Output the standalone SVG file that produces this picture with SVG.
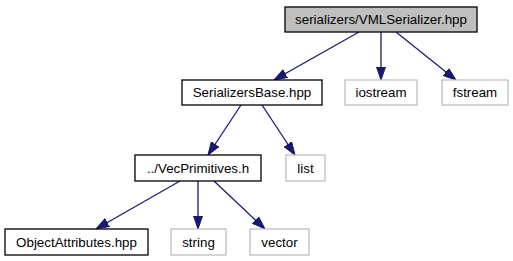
<svg xmlns="http://www.w3.org/2000/svg" width="513" height="261" viewBox="0 0 513 261">
  <style>
    .box { fill: #ffffff; stroke: #000000; stroke-width: 1.3; }
    .cur { fill: #bfbfbf; stroke: #000000; stroke-width: 1.3; }
    .ext { fill: #ffffff; stroke: #bfbfbf; stroke-width: 1.3; }
    .lbl { font-family: "Liberation Sans", Arial, sans-serif; font-size: 13.33px; fill: #000000; text-anchor: middle; }
    .edge { stroke: #191970; stroke-width: 1.3; fill: none; marker-end: url(#arrow); }
  </style>
  <defs>
    <marker id="arrow" viewBox="0 0 13 10" refX="13" refY="5" markerWidth="13" markerHeight="10" markerUnits="userSpaceOnUse" orient="auto">
      <path d="M0,0.5 L13,5 L0,9.5 z" fill="#191970" stroke="#191970" stroke-width="1"/>
    </marker>
  </defs>
  <rect width="513" height="261" fill="#ffffff"/>

  <g id="edges">
    <path class="edge" d="M359,32 L274,80"/>
    <path class="edge" d="M381,32 L381,80"/>
    <path class="edge" d="M396,32 L456,80"/>
    <path class="edge" d="M241,105 L208,155"/>
    <path class="edge" d="M262,105 L295,155"/>
    <path class="edge" d="M180,181 L96,229"/>
    <path class="edge" d="M198,181 L198,229"/>
    <path class="edge" d="M214,181 L265,229"/>
  </g>

  <g id="node-vmlserializer">
    <rect class="cur" x="285" y="7" width="192" height="25"/>
    <text class="lbl" x="381" y="24">serializers/VMLSerializer.hpp</text>
  </g>
  <g id="node-serializersbase">
    <rect class="box" x="182" y="80" width="140" height="25"/>
    <text class="lbl" x="252" y="97">SerializersBase.hpp</text>
  </g>
  <g id="node-iostream">
    <rect class="ext" x="345" y="80" width="72" height="25"/>
    <text class="lbl" x="381" y="97">iostream</text>
  </g>
  <g id="node-fstream">
    <rect class="ext" x="442" y="80" width="66" height="25"/>
    <text class="lbl" x="475" y="97">fstream</text>
  </g>
  <g id="node-vecprimitives">
    <rect class="box" x="135" y="155" width="126" height="26"/>
    <text class="lbl" x="198" y="172.5">../VecPrimitives.h</text>
  </g>
  <g id="node-list">
    <rect class="ext" x="286" y="155" width="39" height="26"/>
    <text class="lbl" x="305.5" y="172.5">list</text>
  </g>
  <g id="node-objectattributes">
    <rect class="box" x="5" y="229" width="143" height="26"/>
    <text class="lbl" x="76.5" y="246.5">ObjectAttributes.hpp</text>
  </g>
  <g id="node-string">
    <rect class="ext" x="171" y="229" width="55" height="26"/>
    <text class="lbl" x="198.5" y="246.5">string</text>
  </g>
  <g id="node-vector">
    <rect class="ext" x="250" y="229" width="59" height="26"/>
    <text class="lbl" x="279.5" y="246.5">vector</text>
  </g>
</svg>
